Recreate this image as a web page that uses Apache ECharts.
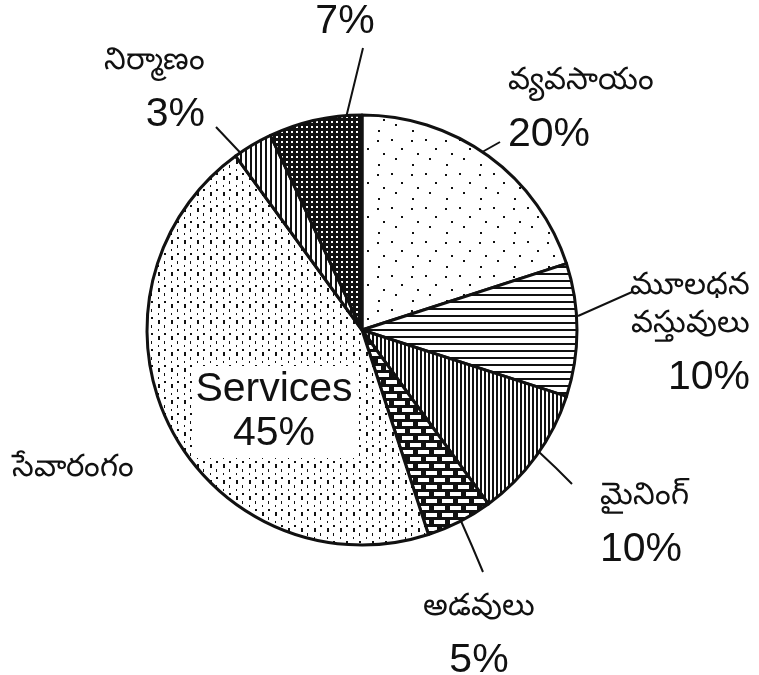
<!DOCTYPE html>
<html>
<head>
<meta charset="utf-8">
<script src="https://cdn.jsdelivr.net/npm/echarts@6/dist/echarts.min.js"></script>
<style>
  html, body { margin: 0; padding: 0; background: #fff; }
  #chart { width: 759px; height: 675px; }
</style>
</head>
<body>
<div id="chart"></div>
<script>
// sectors clockwise from 12 o'clock
var sectors = ['వ్యవసాయం', 'మూలధన\nవస్తువులు', 'మైనింగ్', 'అడవులు', 'సేవారంగం', 'నిర్మాణం', ''];
var shares = [20, 10, 10, 5, 45, 3, 7];
var insideName = 'Services';   // printed inside the big slice
var insideIndex = 4;

// hatch patterns, drawn on small tiles
function tile(w, h, draw) {
    var c = document.createElement('canvas');
    c.width = w; c.height = h;
    var ctx = c.getContext('2d');
    ctx.fillStyle = '#fff';
    ctx.fillRect(0, 0, w, h);
    ctx.fillStyle = '#111';
    draw(ctx);
    return { image: c, repeat: 'repeat' };
}
var patterns = [
    // sparse dots
    tile(34, 34, function (ctx) {
        ctx.fillRect(3, 4, 2, 2); ctx.fillRect(17, 3, 2, 2); ctx.fillRect(27, 12, 2, 2);
        ctx.fillRect(9, 17, 2, 2); ctx.fillRect(21, 22, 2, 2); ctx.fillRect(4, 28, 2, 2);
    }),
    // horizontal lines
    tile(12, 7, function (ctx) { ctx.fillRect(0, 0, 12, 2); }),
    // dense vertical lines
    tile(4, 4, function (ctx) { ctx.fillRect(0, 0, 2, 4); }),
    // bricks
    tile(16, 14, function (ctx) {
        ctx.fillRect(0, 0, 16, 14);
        ctx.fillStyle = '#fff';
        ctx.fillRect(2, 2, 11, 4);
        ctx.fillRect(10, 9, 11, 4); ctx.fillRect(-6, 9, 11, 4);
    }),
    // light vertical dashes
    tile(13, 16, function (ctx) {
        ctx.fillRect(2, 0, 2, 4); ctx.fillRect(2, 9, 1, 2);
        ctx.fillRect(8, 5, 1, 3); ctx.fillRect(8, 13, 2, 2);
    }),
    // vertical lines
    tile(5, 4, function (ctx) { ctx.fillRect(0, 0, 2, 4); }),
    // dark check
    tile(5, 5, function (ctx) {
        ctx.fillRect(0, 0, 5, 5);
        ctx.fillStyle = '#fff';
        ctx.fillRect(1, 1, 2, 2);
    })
];

// label anchors: [x, y(top), align] and leader lines
var labelPos = [
    [508, 61, 'left'],
    [750, 266, 'right'],
    [600, 476, 'left'],
    [479, 587, 'center'],
    [12, 448, 'left'],
    [205, 41, 'right'],
    [345, -14, 'center']
];
var leaders = [
    [[468, 160], [484, 151], [500, 142]],
    [[578, 316], [605, 304], [632, 292]],
    [[539, 452], [556, 468], [572, 484]],
    [[461, 521], [472, 546], [483, 572]],
    null,
    [[250, 163], [233, 145], [216, 127]],
    [[343, 130], [353, 89], [363, 48]]
];

var myChart = echarts.init(document.getElementById('chart'));
var option = {
    animation: false,
    backgroundColor: '#fff',
    series: [{
        type: 'pie',
        center: [362, 330],
        radius: 215,
        startAngle: 90,
        clockwise: true,
        emphasis: { disabled: true },
        itemStyle: { borderColor: '#111', borderWidth: 3 },
        label: {
            show: true,
            position: 'outside',
            overflow: 'none',
            color: '#111',
            formatter: function (p) {
                var parts = [];
                if (p.name) {
                    p.name.split('\n').forEach(function (s) { parts.push('{n|' + s + '}'); });
                }
                if (p.dataIndex !== insideIndex) parts.push('{p|' + p.value + '%}');
                return parts.join('\n');
            },
            rich: {
                n: { fontFamily: 'Noto Sans, sans-serif', fontSize: 31, lineHeight: 38, color: '#111' },
                p: { fontFamily: 'Liberation Sans, Arial, sans-serif', fontSize: 41, lineHeight: 72, color: '#111' }
            }
        },
        labelLine: { show: true, lineStyle: { color: '#111', width: 2 } },
        labelLayout: function (params) {
            var i = params.dataIndex;
            var lp = labelPos[i];
            var res = { x: lp[0], y: lp[1], align: lp[2], verticalAlign: 'top' };
            if (leaders[i]) res.labelLinePoints = leaders[i];
            return res;
        },
        data: shares.map(function (v, i) {
            return {
                value: v,
                name: sectors[i],
                itemStyle: { color: patterns[i] },
                labelLine: { show: !!leaders[i] }
            };
        })
    }],
    graphic: [{
        type: 'text',
        z: 100,
        x: 274,
        y: 412,
        style: {
            text: insideName + '\n' + shares[insideIndex] + '%',
            font: '41px "Liberation Sans", Arial, sans-serif',
            fill: '#111',
            align: 'center',
            verticalAlign: 'middle',
            lineHeight: 44,
            backgroundColor: '#fff',
            padding: [2, 3]
        }
    }]
};
myChart.setOption(option);
</script>
</body>
</html>
